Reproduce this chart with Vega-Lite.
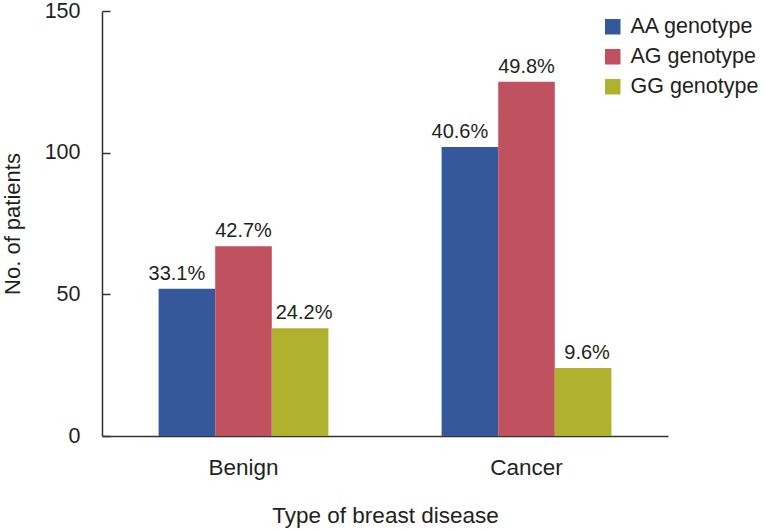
{
  "$schema": "https://vega.github.io/schema/vega-lite/v6.json",
  "width": 566,
  "height": 425,
  "autosize": "none",
  "padding": {"left": 102, "top": 11, "right": 99, "bottom": 94},
  "background": "white",
  "config": {
    "font": "Liberation Sans",
    "view": {"stroke": null},
    "axis": {"labelColor": "#231f20", "titleColor": "#231f20", "domainColor": "#333333", "tickColor": "#333333", "domainWidth": 1.5, "tickWidth": 1.5, "grid": false, "labelFont": "Liberation Sans", "titleFont": "Liberation Sans", "titleFontWeight": "normal"}
  },
  "data": {
    "values": [
      {"disease": "Benign", "genotype": "AA genotype", "count": 52, "pct": "33.1%"},
      {"disease": "Benign", "genotype": "AG genotype", "count": 67, "pct": "42.7%"},
      {"disease": "Benign", "genotype": "GG genotype", "count": 38, "pct": "24.2%"},
      {"disease": "Cancer", "genotype": "AA genotype", "count": 102, "pct": "40.6%"},
      {"disease": "Cancer", "genotype": "AG genotype", "count": 125, "pct": "49.8%"},
      {"disease": "Cancer", "genotype": "GG genotype", "count": 24, "pct": "9.6%"}
    ]
  },
  "encoding": {
    "x": {
      "field": "disease", "type": "nominal",
      "scale": {"paddingInner": 0.4, "paddingOuter": 0.2},
      "axis": {"title": "Type of breast disease", "labelAngle": 0, "ticks": false, "tickSize": 0, "labelPadding": 20, "labelFontSize": 22.5, "titleFontSize": 22.5, "titleY": 86, "titleBaseline": "alphabetic"}
    },
    "xOffset": {"field": "genotype", "type": "nominal", "scale": {"paddingInner": 0, "paddingOuter": 0}},
    "y": {
      "field": "count", "type": "quantitative",
      "scale": {"domain": [0, 150], "nice": false},
      "axis": {"title": "No. of patients", "values": [0, 50, 100, 150], "tickSize": -8, "labelPadding": 30, "labelFontSize": 21.5, "titleFontSize": 22, "titleX": -83, "titleY": 212.5, "titleAngle": -90, "titleAlign": "center", "titleBaseline": "alphabetic"}
    }
  },
  "layer": [
    {
      "mark": {"type": "bar"},
      "encoding": {
        "color": {
          "field": "genotype", "type": "nominal",
          "scale": {"domain": ["AA genotype", "AG genotype", "GG genotype"], "range": ["#35589a", "#c0525f", "#b0b12f"]},
          "legend": {"title": null, "orient": "none", "legendX": 500, "legendY": 5, "symbolType": "square", "symbolSize": 240, "symbolStrokeWidth": 0, "labelFontSize": 21.5, "labelColor": "#231f20", "labelFont": "Liberation Sans", "labelOffset": 7, "rowPadding": 7, "padding": 0}
        }
      }
    },
    {
      "transform": [{"filter": "datum.genotype === 'AA genotype'"}],
      "mark": {"type": "text", "baseline": "bottom", "dy": -5, "dx": -10, "fontSize": 20, "color": "#231f20", "font": "Liberation Sans"},
      "encoding": {"text": {"field": "pct"}}
    },
    {
      "transform": [{"filter": "datum.genotype === 'AG genotype'"}],
      "mark": {"type": "text", "baseline": "bottom", "dy": -5, "fontSize": 20, "color": "#231f20", "font": "Liberation Sans"},
      "encoding": {"text": {"field": "pct"}}
    },
    {
      "transform": [{"filter": "datum.genotype === 'GG genotype'"}],
      "mark": {"type": "text", "baseline": "bottom", "dy": -5, "dx": 4, "fontSize": 20, "color": "#231f20", "font": "Liberation Sans"},
      "encoding": {"text": {"field": "pct"}}
    }
  ]
}
